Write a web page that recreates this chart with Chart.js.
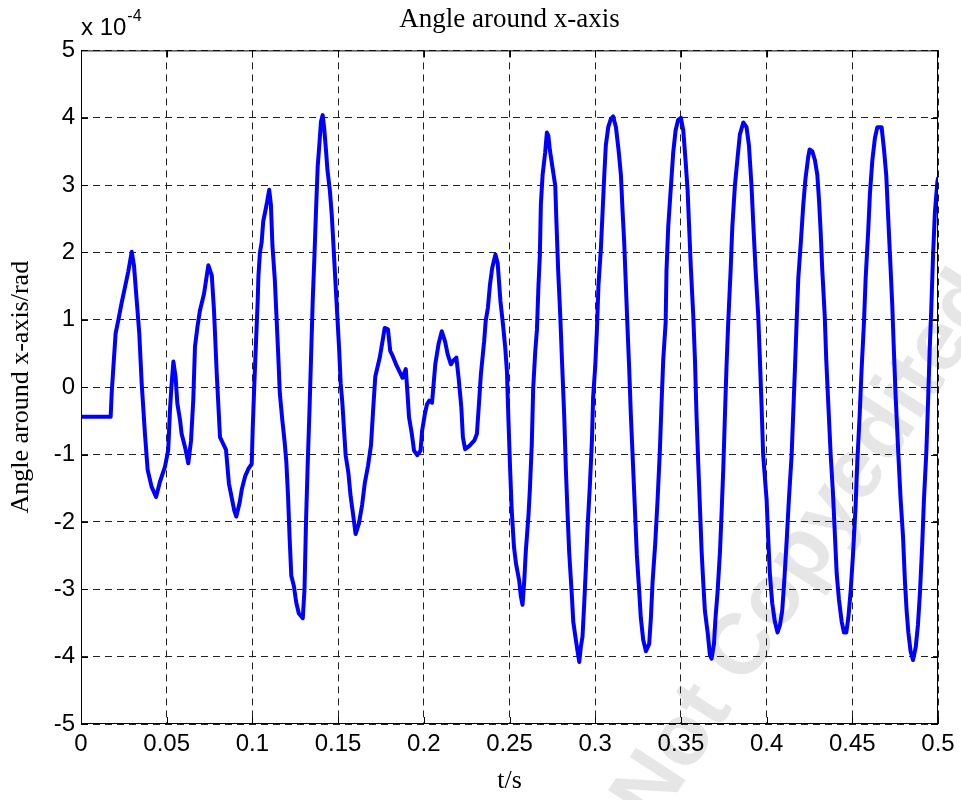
<!DOCTYPE html>
<html>
<head>
<meta charset="utf-8">
<script src="https://cdn.jsdelivr.net/npm/chart.js@4.4.1/dist/chart.umd.min.js"></script>
<style>
  html, body { margin: 0; padding: 0; background: #fff; }
  #wrap { position: relative; width: 961px; height: 800px; }
</style>
</head>
<body>
<div id="wrap"><canvas id="angleChart"></canvas></div>
<script>
// time (s) and angle (x 10^-4 rad)
const timeS = [
  0, 0.0173, 0.0179, 0.0189, 0.0202, 0.0218, 0.0237, 0.0257, 0.0276, 0.0296, 0.0309, 0.0325, 0.0340, 0.0354,
  0.0373, 0.0389, 0.0412, 0.0438, 0.0461, 0.0490, 0.0509, 0.0519, 0.0529, 0.0539, 0.0552, 0.0562, 0.0578,
  0.0587, 0.0607, 0.0626, 0.0642, 0.0655, 0.0665, 0.0679, 0.0694, 0.0718, 0.0743, 0.0763, 0.0776, 0.0792,
  0.0811, 0.0846, 0.0863,
  0.0894, 0.0906, 0.0925, 0.0938, 0.0958, 0.0977, 0.0996, 0.1002, 0.1010, 0.1021, 0.1031, 0.1035, 0.1044,
  0.1054, 0.1063, 0.1079, 0.1087, 0.1098, 0.1108, 0.1117, 0.1131, 0.1140, 0.1150, 0.1160, 0.1175, 0.1188,
  0.1198, 0.1208, 0.1217, 0.1227, 0.1242, 0.1256, 0.1271, 0.1294, 0.1304, 0.1313, 0.1323, 0.1333, 0.1342,
  0.1352, 0.1362, 0.1371, 0.1381, 0.1390, 0.1400, 0.1410, 0.1419, 0.1429, 0.1438, 0.1452, 0.1463, 0.1471,
  0.1486, 0.1496, 0.1506, 0.1515, 0.1525, 0.1535, 0.1544, 0.1560, 0.1573, 0.1587, 0.1602, 0.1621, 0.1640,
  0.1656, 0.1675, 0.1692, 0.1704, 0.1717,
  0.1743, 0.1759, 0.1772, 0.1791, 0.1804, 0.1819, 0.1838, 0.1857, 0.1876, 0.1895, 0.1905, 0.1914, 0.1930,
  0.1943, 0.1962, 0.1981, 0.1990, 0.2006, 0.2019, 0.2032, 0.2048, 0.2057, 0.2067, 0.2086, 0.2105, 0.2124,
  0.2139, 0.2158, 0.2171, 0.2190, 0.2203, 0.2219, 0.2228, 0.2241, 0.2266, 0.2295, 0.2310, 0.2323, 0.2333,
  0.2352, 0.2361, 0.2374, 0.2386, 0.2399, 0.2418, 0.2431, 0.2447, 0.2462, 0.2475, 0.2485, 0.2494, 0.2504,
  0.2513, 0.2526, 0.2538,
  0.2557, 0.2566, 0.2576, 0.2586, 0.2595, 0.2611, 0.2619, 0.2630, 0.2638, 0.2650, 0.2660, 0.2669, 0.2677,
  0.2683, 0.2693, 0.2708, 0.2718, 0.2727, 0.2735, 0.2751, 0.2767, 0.2774, 0.2784, 0.2796, 0.2806, 0.2819,
  0.2829, 0.2839, 0.2848, 0.2864, 0.2872, 0.2887, 0.2897, 0.2907, 0.2916, 0.2926, 0.2936, 0.2946, 0.2955,
  0.2969, 0.2981, 0.2988, 0.3000, 0.3010, 0.3019, 0.3033, 0.3043, 0.3053, 0.3062, 0.3076, 0.3091, 0.3105,
  0.3121, 0.3136, 0.3150, 0.3160, 0.3169, 0.3179, 0.3189, 0.3198, 0.3208, 0.3222, 0.3233, 0.3243, 0.3257,
  0.3266, 0.3280, 0.3296, 0.3315, 0.3325, 0.3335, 0.3350, 0.3364, 0.3377, 0.3387, 0.3397,
  0.3411, 0.3416, 0.3426, 0.3442, 0.3455, 0.3469, 0.3484, 0.3500, 0.3514, 0.3527, 0.3539, 0.3547, 0.3558,
  0.3572, 0.3582, 0.3591, 0.3601, 0.3611, 0.3621, 0.3630, 0.3640, 0.3656, 0.3669, 0.3679, 0.3693, 0.3702,
  0.3714, 0.3728, 0.3737, 0.3747, 0.3757, 0.3766, 0.3776, 0.3790, 0.3800, 0.3815, 0.3831, 0.3844, 0.3864,
  0.3883, 0.3897, 0.3912, 0.3922, 0.3936, 0.3951, 0.3961, 0.3971, 0.3980, 0.4000, 0.4009, 0.4019, 0.4033,
  0.4048, 0.4064, 0.4078, 0.4091, 0.4103, 0.4116, 0.4130, 0.4146, 0.4155, 0.4165, 0.4175, 0.4185, 0.4200,
  0.4214, 0.4227, 0.4243,
  0.4251, 0.4267, 0.4282, 0.4296, 0.4306, 0.4315, 0.4325, 0.4339, 0.4348, 0.4360, 0.4374, 0.4387, 0.4399,
  0.4409, 0.4422, 0.4438, 0.4451, 0.4465, 0.4477, 0.4490, 0.4504, 0.4519, 0.4529, 0.4543, 0.4554, 0.4568,
  0.4578, 0.4593, 0.4603, 0.4617, 0.4632, 0.4646, 0.4671, 0.4685, 0.4698, 0.4708, 0.4720, 0.4733, 0.4743,
  0.4753, 0.4768, 0.4782, 0.4796, 0.4807, 0.4817, 0.4827, 0.4840, 0.4854, 0.4870, 0.4883, 0.4895, 0.4908,
  0.4918, 0.4932, 0.4943, 0.4951, 0.4961, 0.4971, 0.4982, 0.4996, 0.5000
];
const angleE4 = [
  -0.44, -0.44, -0.09, 0.30, 0.80, 1.00, 1.25, 1.49, 1.72, 2.01, 1.81, 1.29, 0.80, 0.06,
  -0.69, -1.23, -1.48, -1.63, -1.40, -1.18, -0.93, -0.34, 0.06, 0.38, 0.15, -0.24, -0.49,
  -0.69, -0.89, -1.13, -0.79, -0.19, 0.60, 0.89, 1.14, 1.39, 1.81, 1.66, 1.14, 0.20,
  -0.74, -0.93, -1.43,
  -1.83, -1.92, -1.72, -1.52, -1.32, -1.21, -1.14, -0.60, -0.04, 0.67, 1.29, 1.64, 2.00,
  2.15, 2.46, 2.66, 2.77, 2.93, 2.71, 2.10, 1.59, 1.08, 0.52, -0.09, -0.50, -0.81,
  -1.11, -1.62, -2.23, -2.80, -2.95, -3.20, -3.36, -3.43, -3.00, -1.98, -1.11, -0.35, 0.42,
  1.29, 1.95, 2.61, 3.28, 3.58, 3.94, 4.04, 3.84, 3.53, 3.22, 2.92, 2.56, 2.20,
  1.49, 1.03, 0.57, 0.06, -0.24, -0.65, -1.01, -1.27, -1.62, -1.88, -2.18, -2.03, -1.75,
  -1.42, -1.16, -0.86, -0.35, 0.16,
  0.44, 0.68, 0.88, 0.86, 0.54, 0.46, 0.34, 0.24, 0.14, 0.27, -0.10, -0.45, -0.69,
  -0.94, -1.01, -0.94, -0.65, -0.40, -0.25, -0.20, -0.23, 0.04, 0.34, 0.64, 0.83, 0.68,
  0.49, 0.34, 0.39, 0.44, 0.14, -0.30, -0.74, -0.92, -0.87, -0.79, -0.69, -0.20, 0.19,
  0.68, 0.98, 1.18, 1.52, 1.77, 1.97, 1.84, 1.28, 0.93, 0.59, 0.24, -0.50, -1.24,
  -1.83, -2.37, -2.62,
  -2.88, -3.10, -3.23, -2.88, -2.44, -1.89, -1.51, -0.85, -0.03, 0.52, 0.85, 1.51, 1.95,
  2.71, 3.15, 3.48, 3.78, 3.73, 3.53, 3.26, 2.99, 2.44, 1.73, 1.07, 0.41, -0.41,
  -1.23, -1.89, -2.44, -3.10, -3.48, -3.75, -3.92, -4.08, -3.86, -3.70, -3.21, -2.66, -2.11,
  -1.45, -0.79, -0.14, 0.30, 0.85, 1.51, 2.05, 2.60, 3.15, 3.59, 3.86, 3.98, 4.02,
  3.86, 3.53, 3.15, 2.60, 2.16, 1.51, 0.85, 0.30, -0.41, -1.23, -1.89, -2.49, -3.04,
  -3.42, -3.75, -3.92, -3.81, -3.42, -2.88, -2.33, -1.67, -0.96, -0.25, 0.41,
  0.96, 1.73, 2.38, 2.99, 3.48, 3.81, 3.97, 4.00, 3.81, 3.37, 2.93, 2.44, 1.78,
  1.07, 0.41, -0.41, -1.12, -1.78, -2.44, -2.88, -3.32, -3.64, -3.97, -4.03, -3.81, -3.42,
  -3.04, -2.44, -1.89, -1.23, -0.41, 0.30, 0.96, 1.73, 2.38, 2.99, 3.42, 3.75, 3.93,
  3.86, 3.59, 2.99, 2.44, 1.73, 1.07, 0.41, -0.30, -1.01, -1.67, -2.22, -2.77, -3.21,
  -3.48, -3.64, -3.53, -3.32, -2.88, -2.33, -1.67, -1.01, -0.41, 0.25, 0.96, 1.62, 2.16,
  2.71, 3.10, 3.42,
  3.53, 3.50, 3.37, 3.15, 2.77, 2.33, 1.73, 1.07, 0.41, -0.25, -1.01, -1.56, -2.22,
  -2.77, -3.15, -3.48, -3.64, -3.64, -3.42, -3.04, -2.49, -1.78, -1.12, -0.41, 0.25, 0.96,
  1.62, 2.33, 2.88, 3.37, 3.70, 3.86, 3.86, 3.53, 3.15, 2.60, 1.95, 1.23, 0.52,
  -0.14, -0.96, -1.67, -2.22, -2.88, -3.32, -3.64, -3.92, -4.05, -3.86, -3.53, -3.04, -2.33,
  -1.67, -0.96, -0.14, 0.52, 1.18, 1.95, 2.60, 3.04, 3.10
];

const xTicks = [0, 0.05, 0.1, 0.15, 0.2, 0.25, 0.3, 0.35, 0.4, 0.45, 0.5];
const yTicks = [-5, -4, -3, -2, -1, 0, 1, 2, 3, 4, 5];

const titleText = 'Angle around x-axis';
const xTitle = 't/s';
const yTitle = 'Angle around x-axis/rad';
const watermarkText = 'Not Copyedited';

const serif = '"Liberation Serif", "Times New Roman", serif';
const sans = '"Liberation Sans", Arial, sans-serif';

const points = timeS.map((t, i) => ({ x: t, y: angleE4[i] }));

// watermark, frame, inward ticks and the exponent label
const matlabLook = {
    id: 'matlabLook',
    beforeDraw(chart) {
        const ctx = chart.ctx;
        ctx.save();
        ctx.translate(808, 548);
        ctx.rotate(-57 * Math.PI / 180);
        ctx.font = 'bold 86px ' + sans;
        ctx.fillStyle = '#e6e6e6';
        ctx.textAlign = 'center';
        ctx.textBaseline = 'middle';
        ctx.fillText(watermarkText, 0, 0);
        ctx.restore();
    },
    afterDraw(chart) {
        const { ctx, chartArea: a, scales } = chart;
        ctx.save();
        ctx.strokeStyle = '#000';
        ctx.lineWidth = 1;
        ctx.setLineDash([]);
        ctx.strokeRect(a.left + 0.5, a.top + 0.5, a.right - a.left - 1, a.bottom - a.top - 1);
        ctx.beginPath();
        xTicks.forEach(v => {
            const x = Math.round(scales.x.getPixelForValue(v)) + 0.5;
            ctx.moveTo(x, a.bottom); ctx.lineTo(x, a.bottom - 7);
            ctx.moveTo(x, a.top); ctx.lineTo(x, a.top + 7);
        });
        yTicks.forEach(v => {
            const y = Math.round(scales.y.getPixelForValue(v)) + 0.5;
            ctx.moveTo(a.left, y); ctx.lineTo(a.left + 7, y);
            ctx.moveTo(a.right, y); ctx.lineTo(a.right - 7, y);
        });
        ctx.stroke();

        ctx.fillStyle = '#000';
        ctx.textAlign = 'left';
        ctx.textBaseline = 'alphabetic';
        ctx.font = '24px ' + sans;
        ctx.fillText('x 10', a.left, 35);
        const w = ctx.measureText('x 10').width;
        ctx.font = '16px ' + sans;
        ctx.fillText('-4', a.left + w + 1, 21);
        ctx.restore();
    }
};

new Chart(document.getElementById('angleChart'), {
    type: 'line',
    data: {
        datasets: [{
            data: points,
            borderColor: '#0000ff',
            borderWidth: 4,
            borderJoinStyle: 'round',
            borderCapStyle: 'round',
            pointRadius: 0,
            tension: 0,
            fill: false
        }]
    },
    options: {
        responsive: true,
        maintainAspectRatio: false,
        animation: false,
        layout: { padding: { top: 0, right: 23, bottom: 0, left: 0 } },
        plugins: {
            legend: { display: false },
            tooltip: { enabled: false },
            title: {
                display: true,
                text: titleText,
                fullSize: false,
                color: '#000',
                font: { family: serif, size: 27, weight: 'normal' },
                padding: { top: 4, bottom: 14 }
            }
        },
        scales: {
            x: {
                type: 'linear',
                min: 0,
                max: 0.5,
                afterBuildTicks: s => { s.ticks = xTicks.map(v => ({ value: v })); },
                afterFit: s => { s.height = 76; },
                ticks: {
                    color: '#000',
                    font: { family: sans, size: 24 },
                    padding: 6,
                    maxRotation: 0,
                    autoSkip: false,
                    callback: v => String(v)
                },
                grid: { color: '#222', lineWidth: 1, drawTicks: false },
                border: { display: false, dash: [7, 5] },
                title: {
                    display: true,
                    text: xTitle,
                    color: '#000',
                    font: { family: serif, size: 26 },
                    padding: { top: 0, bottom: 3 }
                }
            },
            y: {
                min: -5,
                max: 5,
                afterBuildTicks: s => { s.ticks = yTicks.map(v => ({ value: v })); },
                afterFit: s => { s.width = 81; },
                ticks: {
                    color: '#000',
                    font: { family: sans, size: 24 },
                    padding: 6,
                    autoSkip: false,
                    callback: v => String(v)
                },
                grid: { color: '#222', lineWidth: 1, drawTicks: false },
                border: { display: false, dash: [7, 5] },
                title: {
                    display: true,
                    text: yTitle,
                    color: '#000',
                    font: { family: serif, size: 26 },
                    padding: { top: 6, bottom: 0 }
                }
            }
        }
    },
    plugins: [matlabLook]
});
</script>
</body>
</html>
